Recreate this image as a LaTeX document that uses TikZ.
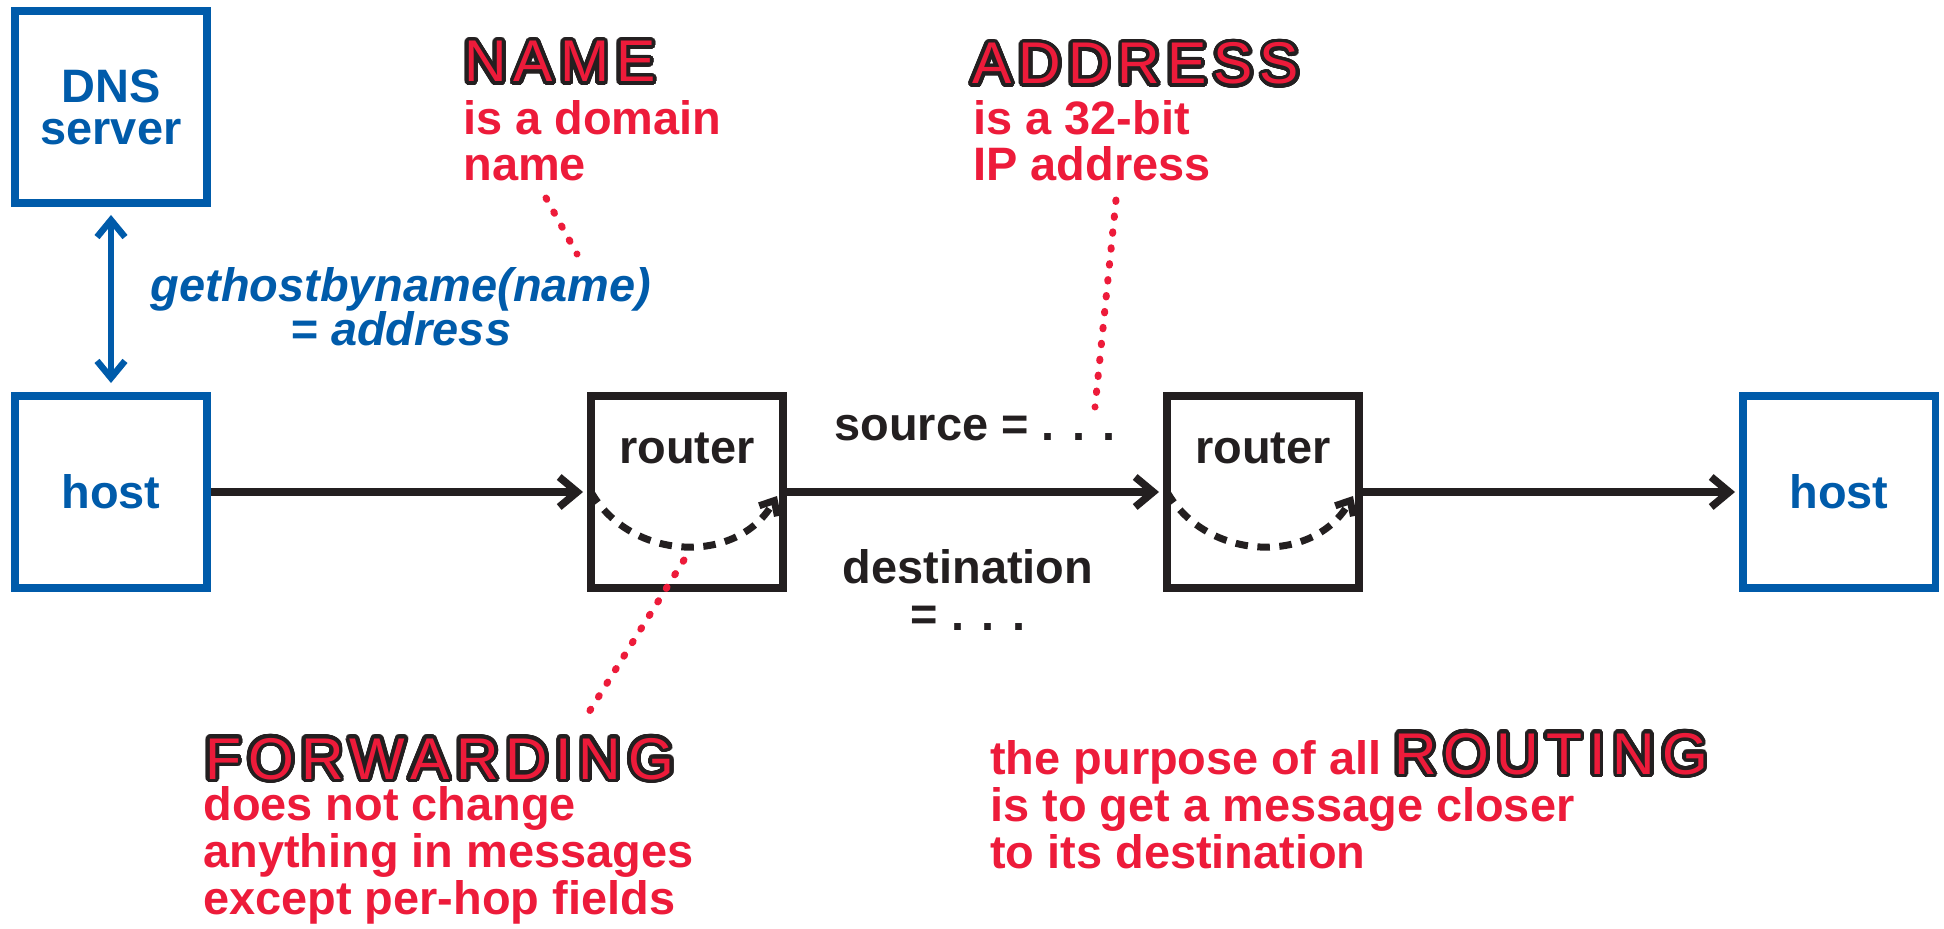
\documentclass[tikz,border=0pt]{standalone}
\usepackage{fontspec}
\setmainfont{Liberation Sans}
\newfontfamily\headfont{Liberation Sans}[LetterSpace=12]
\usepackage{contour}
\contourlength{2.1pt}
\contournumber{40}
\usepackage{tikz}
\usetikzlibrary{positioning,arrows.meta}
\definecolor{netred}{RGB}{237,27,58}
\definecolor{netblue}{RGB}{0,91,170}
\definecolor{netblack}{RGB}{35,31,32}
\newcommand{\bigword}[1]{{\headfont\mdseries\fontsize{33.5}{33.5}\selectfont\color{netred}\contour{netblack}{#1}}}

\begin{document}
\begin{tikzpicture}[x=0.02cm,y=-0.02cm]
\tikzstyle{hostbox}=[draw=netblue,line width=0.15cm,minimum size=3.85cm,inner sep=0pt,text=netblue,align=center,font=\bfseries\fontsize{26.7}{24}\selectfont]
\tikzstyle{routerbox}=[draw=netblack,line width=0.15cm,minimum size=3.85cm,inner sep=0pt]
\tikzstyle{blacktext}=[text=netblack,inner sep=0pt,font=\bfseries\fontsize{26.7}{26.7}\selectfont]
\tikzstyle{redtext}=[text=netred,inner sep=0pt,align=left,font=\bfseries\fontsize{26.7}{26.7}\selectfont]
\tikzstyle{bluetext}=[text=netblue,inner sep=0pt,align=center,font=\bfseries\itshape\fontsize{26.7}{25}\selectfont]
\tikzstyle{hop}=[->,-{Straight Barb[length=0.36cm,width=0.6cm]},line width=0.15cm,netblack,shorten >=0.08cm]
\tikzstyle{pass}=[->,-{Straight Barb[length=0.24cm,width=0.42cm]},line width=0.14cm,netblack,dash pattern=on 0.25cm off 0.19cm]
\tikzstyle{lookup}=[{Straight Barb[length=0.34cm,width=0.56cm]}-{Straight Barb[length=0.34cm,width=0.56cm]},line width=0.13cm,netblue]
\tikzstyle{pointer}=[netred,line width=0.14cm,line cap=round,dash pattern=on 0.03cm off 0.29cm]
\useasboundingbox (0,0) rectangle (1944,929);
    % boxes
    \node[hostbox] (dns) at (111,107) {DNS\\server};
    \node[hostbox] (src) at (111,492) {host};
    \node[routerbox] (r1) at (687,492) {};
    \node[routerbox] (r2) at (1263,492) {};
    \node[hostbox] (dst) at (1839,492) {host};
    \node[blacktext,anchor=base] (r1name) at (687,463) {router};
    \node[blacktext,anchor=base] (r2name) at (1263,463) {router};
    % path of the message
    \draw[hop] (src) to (r1);
    \draw[hop] (r1) to (r2);
    \draw[hop] (r2) to (dst);
    \draw[pass] ([xshift=0.08cm]r1.west) to[out=-60,in=-120,looseness=1.1] ([xshift=-0.2cm,yshift=-0.08cm]r1.east);
    \draw[pass] ([xshift=0.08cm]r2.west) to[out=-60,in=-120,looseness=1.1] ([xshift=-0.2cm,yshift=-0.08cm]r2.east);
    \draw[lookup,shorten <=0.16cm,shorten >=0.18cm] (dns) to (src);
    \node[bluetext,anchor=base] (call) at (401,345) {gethostbyname(name)\\= address};
    \node[blacktext,anchor=base] (srcfield) at (975,440) {source = . . .};
    \node[blacktext,anchor=base,align=center] (dstfield) at (968,630) {destination\\= . . .};
    % notes (base = last line)
    \node[redtext,anchor=base west] (namehd) at (464,82) {\bigword{NAME}};
    \node[redtext,anchor=base west] (namebody) at (463,181) {is a domain\\name};
    \node[redtext,anchor=base west] (addrhd) at (972,84) {\bigword{ADDRESS}};
    \node[redtext,anchor=base west] (addrbody) at (973,181) {is a 32-bit\\IP address};
    \node[redtext,anchor=base west] (fwdhd) at (205,779) {\bigword{FORWARDING}};
    \node[redtext,anchor=base west] (fwdbody) at (203,914) {does not change\\anything in messages\\except per-hop fields};
    \node[redtext,anchor=base west] (goal) at (990,868) {the purpose of all \bigword{ROUTING}\\is to get a message closer\\to its destination};
    \coordinate (nametop) at (546,198);
    \coordinate (nameend) at (577,254);
    \coordinate (addrtop) at (1116,200);
    \coordinate (addrend) at (1095,407);
    \coordinate (fwdtop) at (684,560);
    \coordinate (fwdend) at (589,712);
    \draw[pointer] (nametop) -- (nameend);
    \draw[pointer] (addrtop) -- (addrend);
    \draw[pointer] (fwdtop) -- (fwdend);
\end{tikzpicture}
\end{document}
